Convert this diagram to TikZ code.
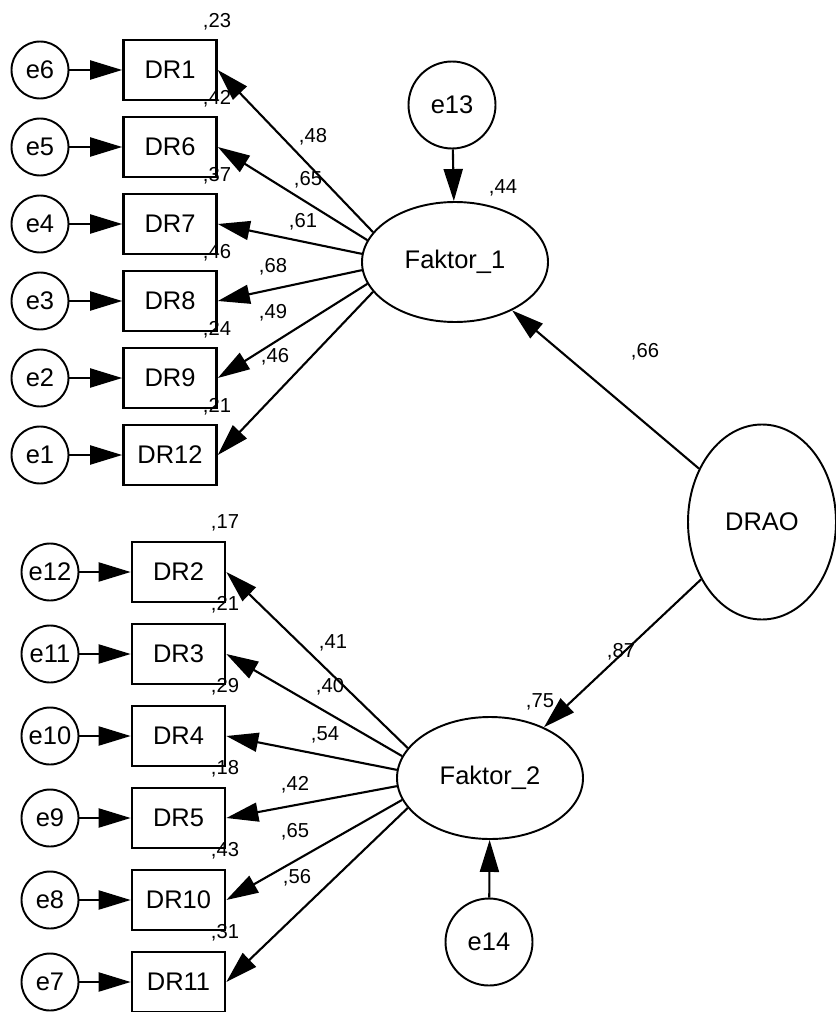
\documentclass[tikz,border=0pt]{standalone}
\usepackage{fontspec}
\setmainfont{Liberation Sans}
\usetikzlibrary{shapes.geometric, arrows.meta}

\begin{document}
\begin{tikzpicture}[
        obs/.style={draw, line width=1.5pt, rectangle, minimum width=1.86cm, minimum height=1.2cm, inner sep=0pt, font=\fontsize{14.5}{17}\selectfont},
        err/.style={draw, line width=1.1pt, circle, minimum size=1.14cm, inner sep=0pt, font=\fontsize{14.5}{17}\selectfont},
        errbig/.style={err, minimum size=1.74cm},
        lat/.style={draw, line width=1.1pt, ellipse, minimum width=3.72cm, minimum height=2.4cm, inner sep=0pt, font=\fontsize{14.5}{17}\selectfont},
        coef/.style={inner sep=0pt, font=\fontsize{11.5}{13}\selectfont},
        path/.style={line width=1.2pt, -{Triangle[length=0.64cm, width=0.38cm]}}
    ]
        \useasboundingbox (0, 0) rectangle (16.7, -20.24);

        \begin{scope}
            % Faktor 1 and its indicators
            \node[lat] (f1) at (9.1, -5.24) {Faktor\_1};
            \node[errbig] (e13) at (9.04, -2.1) {e13};

            \node[obs] (dr1) at (3.4, -1.4) {DR1};
            \node[obs] (dr6) at (3.4, -2.94) {DR6};
            \node[obs] (dr7) at (3.4, -4.48) {DR7};
            \node[obs] (dr8) at (3.4, -6.02) {DR8};
            \node[obs] (dr9) at (3.4, -7.56) {DR9};
            \node[obs] (dr12) at (3.4, -9.1) {DR12};

            \node[err] (e6) at (0.8, -1.4) {e6};
            \node[err] (e5) at (0.8, -2.94) {e5};
            \node[err] (e4) at (0.8, -4.48) {e4};
            \node[err] (e3) at (0.8, -6.02) {e3};
            \node[err] (e2) at (0.8, -7.56) {e2};
            \node[err] (e1) at (0.8, -9.1) {e1};

            % Connect Nodes
            \draw[path] (e6) -- (dr1);
            \draw[path] (e5) -- (dr6);
            \draw[path] (e4) -- (dr7);
            \draw[path] (e3) -- (dr8);
            \draw[path] (e2) -- (dr9);
            \draw[path] (e1) -- (dr12);
            \draw[path] (f1.160) -- (dr1.east);
            \draw[path] (f1.166) -- (dr6.east);
            \draw[path] (f1.175) -- (dr7.east);
            \draw[path] (f1.185) -- (dr8.east);
            \draw[path] (f1.194) -- (dr9.east);
            \draw[path] (f1.200) -- (dr12.east);
            \draw[path] (e13) -- (f1);

            % Squared correlations
            \node[coef] (r1) at (4.34, -0.44) {,23};
            \node[coef] (r6) at (4.34, -1.97) {,42};
            \node[coef] (r7) at (4.34, -3.51) {,37};
            \node[coef] (r8) at (4.34, -5.05) {,46};
            \node[coef] (r9) at (4.34, -6.59) {,24};
            \node[coef] (r12) at (4.34, -8.13) {,21};

            % Loadings
            \node[coef] (l1) at (6.26, -2.74) {,48};
            \node[coef] (l6) at (6.16, -3.6) {,65};
            \node[coef] (l7) at (6.06, -4.44) {,61};
            \node[coef] (l8) at (5.46, -5.34) {,68};
            \node[coef] (l9) at (5.46, -6.26) {,49};
            \node[coef] (l12) at (5.5, -7.14) {,46};
        \end{scope}

        \begin{scope}
            % Faktor 2 and its indicators
            \node[lat, minimum height=2.44cm] (f2) at (9.8, -15.56) {Faktor\_2};
            \node[errbig] (e14) at (9.78, -18.84) {e14};

            \node[obs] (dr2) at (3.57, -11.44) {DR2};
            \node[obs] (dr3) at (3.57, -13.08) {DR3};
            \node[obs] (dr4) at (3.57, -14.72) {DR4};
            \node[obs] (dr5) at (3.57, -16.36) {DR5};
            \node[obs] (dr10) at (3.57, -18.0) {DR10};
            \node[obs] (dr11) at (3.57, -19.64) {DR11};

            \node[err] (e12) at (1.0, -11.44) {e12};
            \node[err] (e11) at (1.0, -13.08) {e11};
            \node[err] (e10) at (1.0, -14.72) {e10};
            \node[err] (e9) at (1.0, -16.36) {e9};
            \node[err] (e8) at (1.0, -18.0) {e8};
            \node[err] (e7) at (1.0, -19.64) {e7};

            % Connect Nodes
            \draw[path] (e12) -- (dr2);
            \draw[path] (e11) -- (dr3);
            \draw[path] (e10) -- (dr4);
            \draw[path] (e9) -- (dr5);
            \draw[path] (e8) -- (dr10);
            \draw[path] (e7) -- (dr11);
            \draw[path] (f2.160) -- (dr2.east);
            \draw[path] (f2.166) -- (dr3.east);
            \draw[path] (f2.175) -- (dr4.east);
            \draw[path] (f2.185) -- (dr5.east);
            \draw[path] (f2.194) -- (dr10.east);
            \draw[path] (f2.200) -- (dr11.east);
            \draw[path] (e14) -- (f2);

            % Squared correlations
            \node[coef] (r2) at (4.5, -10.46) {,17};
            \node[coef] (r3) at (4.5, -12.1) {,21};
            \node[coef] (r4) at (4.5, -13.74) {,29};
            \node[coef] (r5) at (4.5, -15.38) {,18};
            \node[coef] (r10) at (4.5, -17.02) {,43};
            \node[coef] (r11) at (4.5, -18.66) {,31};

            % Loadings
            \node[coef] (l2) at (6.66, -12.86) {,41};
            \node[coef] (l3) at (6.6, -13.74) {,40};
            \node[coef] (l4) at (6.5, -14.7) {,54};
            \node[coef] (l5) at (5.9, -15.7) {,42};
            \node[coef] (l10) at (5.9, -16.64) {,65};
            \node[coef] (l11) at (5.94, -17.56) {,56};
        \end{scope}

        \begin{scope}
            % Second order factor
            \node[lat, minimum width=2.96cm, minimum height=3.9cm] (drao) at (15.24, -10.44) {DRAO};

            \draw[path] (drao) -- (f1);
            \draw[path] (drao) -- (f2);

            \node[coef] (r13) at (10.06, -3.76) {,44};
            \node[coef] (r14) at (10.8, -14.04) {,75};
            \node[coef] (g1) at (12.9, -7.04) {,66};
            \node[coef] (g2) at (12.42, -13.04) {,87};
        \end{scope}
    \end{tikzpicture}
\end{document}
